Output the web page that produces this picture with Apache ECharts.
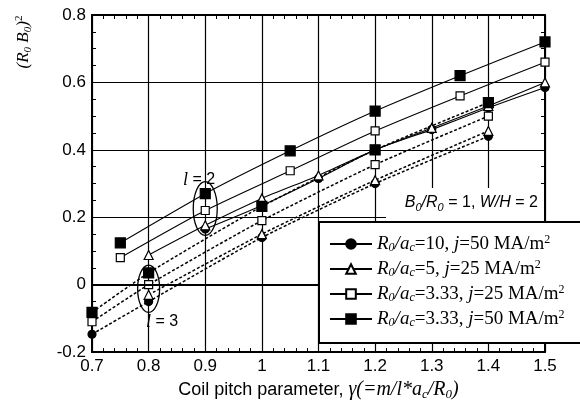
<!DOCTYPE html>
<html>
<head>
<meta charset="utf-8">
<script src="https://cdn.jsdelivr.net/npm/echarts@6/dist/echarts.min.js"></script>
<style>
  html, body { margin: 0; padding: 0; background: #fff; }
  #chart { width: 580px; height: 406px; }
</style>
</head>
<body>
<div id="chart"></div>
<script>
// l = 2 (solid lines)
const xR333L2 = [0.75, 0.9, 1.05, 1.2, 1.35, 1.5];
const sqFilledL2 = [0.124, 0.27, 0.397, 0.515, 0.62, 0.72];
const sqOpenL2 = [0.08, 0.22, 0.338, 0.456, 0.56, 0.66];
const xR5L2 = [0.8, 0.9, 1.0, 1.1, 1.2, 1.3, 1.4, 1.5];
const triL2 = [0.088, 0.176, 0.256, 0.324, 0.4, 0.465, 0.53, 0.6];
const xR10L2 = [0.9, 1.0, 1.1, 1.2, 1.3, 1.4, 1.5];
const circL2 = [0.165, 0.235, 0.315, 0.4, 0.46, 0.525, 0.585];
// l = 3 (dotted lines)
const xR333L3 = [0.7, 0.8, 1.0, 1.2, 1.4];
const sqFilledL3 = [-0.082, 0.035, 0.232, 0.4, 0.54];
const sqOpenL3 = [-0.11, 0.0, 0.19, 0.356, 0.5];
const xR5L3 = [0.8, 1.0, 1.2, 1.4];
const triL3 = [-0.03, 0.15, 0.31, 0.456];
const xR10L3 = [0.7, 0.8, 1.0, 1.2, 1.4];
const circL3 = [-0.147, -0.05, 0.14, 0.3, 0.44];

const legendRatio = ['10', '5', '3.33', '3.33'];
const legendJ = ['50', '25', '25', '50'];
const legendNames = legendRatio.map((r, i) => 'R0/ac=' + r + ', j=' + legendJ[i] + ' MA/m2');

const marks = [
  { symbol: 'circle', size: 8, fill: '#000' },
  { symbol: 'triangle', size: 9, fill: '#fff' },
  { symbol: 'rect', size: 8, fill: '#fff' },
  { symbol: 'rect', size: 10, fill: '#000' }
];

function makeSeries(name, xs, ys, k, dotted) {
  return {
    name: name,
    type: 'line',
    data: xs.map((x, i) => [x, ys[i]]),
    symbol: marks[k].symbol,
    symbolSize: marks[k].size,
    smooth: 0.2,
    itemStyle: { color: marks[k].fill, borderColor: '#000', borderWidth: 1.2 },
    lineStyle: { color: '#000', width: dotted ? 1.5 : 1.1, type: dotted ? [3, 2] : 'solid' }
  };
}

const serif = 'Liberation Serif';
const sans = 'Liberation Sans';

const series = [
  makeSeries(legendNames[0], xR10L2, circL2, 0, false),
  makeSeries(legendNames[1], xR5L2, triL2, 1, false),
  makeSeries(legendNames[2], xR333L2, sqOpenL2, 2, false),
  makeSeries(legendNames[3], xR333L2, sqFilledL2, 3, false),
  makeSeries('l3-a', xR10L3, circL3, 0, true),
  makeSeries('l3-b', xR5L3, triL3, 1, true),
  makeSeries('l3-c', xR333L3, sqOpenL3, 2, true),
  makeSeries('l3-d', xR333L3, sqFilledL3, 3, true)
];
series[0].markLine = {
  silent: true, symbol: 'none', label: { show: false },
  lineStyle: { color: '#000', width: 2, type: 'solid' },
  data: [{ yAxis: 0 }]
};

function valueAxis(pos, min, max, step, minorSplit, labels) {
  return {
    type: 'value', position: pos, min: min, max: max, interval: step,
    axisLine: { show: true, onZero: false, lineStyle: { color: '#000', width: 2 } },
    axisTick: { show: true, inside: true, length: 5, lineStyle: { color: '#000' } },
    minorTick: { show: true, splitNumber: minorSplit, length: 4, lineStyle: { color: '#000', width: 1 } },
    splitLine: { show: labels, lineStyle: { color: '#000', width: 1.2 } },
    axisLabel: { show: labels, color: '#000', fontSize: 17, fontFamily: sans, margin: 6 }
  };
}

const xMain = valueAxis('bottom', 0.7, 1.5, 0.1, 5, true);
xMain.name = '{n|Coil pitch parameter, }{i|\u03b3(=m/l*a}{s|c}{i|/R}{s|0}{i|)}';
xMain.nameLocation = 'middle';
xMain.nameGap = 24;
xMain.nameTextStyle = {
  rich: {
    n: { fontFamily: sans, fontSize: 18, color: '#000', lineHeight: 22 },
    i: { fontFamily: serif, fontStyle: 'italic', fontSize: 20, color: '#000', lineHeight: 22 },
    s: { fontFamily: serif, fontStyle: 'italic', fontSize: 13, color: '#000', lineHeight: 10, verticalAlign: 'bottom' }
  }
};

const option = {
  animation: false,
  backgroundColor: '#fff',
  grid: { left: 92, right: 35, top: 15, bottom: 51 },
  xAxis: [xMain, valueAxis('top', 0.7, 1.5, 0.1, 5, false)],
  yAxis: [valueAxis('left', -0.2, 0.8, 0.2, 4, true), valueAxis('right', -0.2, 0.8, 0.2, 4, false)],
  legend: {
    z: 20,
    data: legendNames,
    orient: 'vertical',
    left: 319,
    top: 222,
    backgroundColor: '#fff',
    borderColor: '#000',
    borderWidth: 2,
    borderRadius: 0,
    padding: [12, 80, 14, 10],
    itemGap: 5,
    itemWidth: 42,
    itemHeight: 12,
    selectedMode: false,
    formatter: function (name) {
      const i = legendNames.indexOf(name);
      return '{i|R}{s|0}{i|/a}{s|c}{n|=' + legendRatio[i] + ', }{i|j}{n|=' + legendJ[i] + ' MA/m}{p|2}';
    },
    textStyle: {
      color: '#000',
      rich: {
        i: { fontFamily: serif, fontStyle: 'italic', fontSize: 19, lineHeight: 20 },
        n: { fontFamily: serif, fontSize: 19, lineHeight: 20 },
        s: { fontFamily: serif, fontStyle: 'italic', fontSize: 12, lineHeight: 9, verticalAlign: 'bottom' },
        p: { fontFamily: serif, fontSize: 12, lineHeight: 10, verticalAlign: 'top' }
      }
    }
  },
  series: series
};

const chart = echarts.init(document.getElementById('chart'));
chart.setOption(option);

const px = p => chart.convertToPixel({ gridIndex: 0 }, p);
const c2 = px([0.9, 0.226]), t2 = px([0.9, 0.306]);
const c3 = px([0.8, -0.012]), t3 = px([0.8, 0.058]);

const labelRich = {
  l: { fontFamily: serif, fontStyle: 'italic', fontSize: 18, fill: '#000' },
  n: { fontFamily: sans, fontSize: 16, fill: '#000' }
};

chart.setOption({
  graphic: [
    { type: 'ellipse', z: 10, shape: { cx: c2[0], cy: c2[1], rx: 12, ry: c2[1] - t2[1] },
      style: { fill: 'none', stroke: '#000', lineWidth: 1.3 } },
    { type: 'ellipse', z: 10, shape: { cx: c3[0], cy: c3[1], rx: 11, ry: c3[1] - t3[1] },
      style: { fill: 'none', stroke: '#000', lineWidth: 1.3 } },
    { type: 'text', z: 10, x: 183, y: 180,
      style: { text: '{l|l}{n| = 2}', rich: labelRich, verticalAlign: 'middle' } },
    { type: 'text', z: 10, x: 146, y: 322,
      style: { text: '{l|l}{n| = 3}', rich: labelRich, verticalAlign: 'middle' } },
    { type: 'rect', z: 8, shape: { x: 386, y: 188, width: 158, height: 33 }, style: { fill: '#fff' } },
    { type: 'text', z: 10, x: 538, y: 203,
      style: {
        text: '{i|B}{s|0}{i|/R}{s|0}{n| = 1, }{i|W/H}{n| = 2}', align: 'right', verticalAlign: 'middle',
        rich: {
          i: { fontFamily: sans, fontStyle: 'italic', fontSize: 16, lineHeight: 20, fill: '#000' },
          n: { fontFamily: sans, fontSize: 16, lineHeight: 20, fill: '#000' },
          s: { fontFamily: sans, fontStyle: 'italic', fontSize: 11, lineHeight: 9, verticalAlign: 'bottom', fill: '#000' }
        }
      } },
    { type: 'text', z: 10, x: 24, y: 42, rotation: Math.PI / 2,
      style: {
        text: '{i|(R}{s|0}{i| B}{s|0}{i|)}{p|2}', align: 'center', verticalAlign: 'middle',
        rich: {
          i: { fontFamily: serif, fontStyle: 'italic', fontSize: 17, lineHeight: 20, fill: '#000' },
          s: { fontFamily: serif, fontStyle: 'italic', fontSize: 11, lineHeight: 9, verticalAlign: 'bottom', fill: '#000' },
          p: { fontFamily: serif, fontSize: 11, lineHeight: 10, verticalAlign: 'top', fill: '#000' }
        }
      } }
  ]
});
</script>
</body>
</html>
